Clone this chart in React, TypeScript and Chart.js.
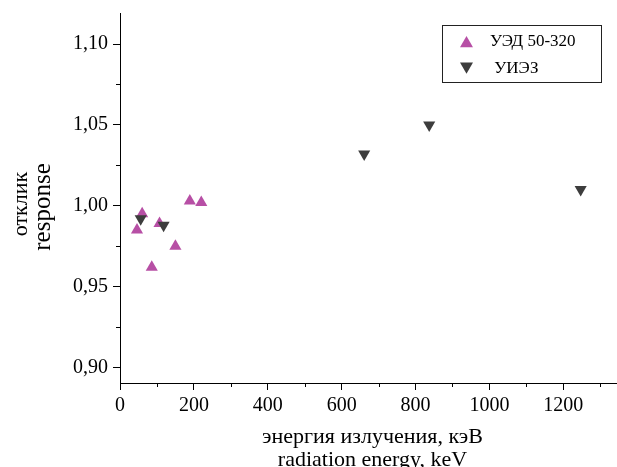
import { useEffect, useRef } from 'react';
import { Chart, registerables } from 'chart.js';

Chart.register(...registerables);

// ---- data ----
const energyUED = [46, 60, 86, 107, 150, 189, 220];
const responseUED = [0.985, 0.995, 0.962, 0.989, 0.975, 1.003, 1.002];
const energyUIEZ = [56, 118, 661, 837, 1247];
const responseUIEZ = [0.992, 0.988, 1.032, 1.05, 1.01];
const seriesLabels = ['УЭД 50-320', ' УИЭЗ'];
const xTitle = ['энергия излучения, кэВ', 'radiation energy, keV'];
const yTitle = ['отклик', 'response'];
const X_MIN = 0;
const X_MAX = 1367;
const X_STEP = 100;
const X_MAJOR = 200;
const Y_MIN = 0.8904;
const Y_MAX = 1.1192;
const Y_STEP = 0.025;
const Y_MAJOR = 0.05;

const FONT = "'Liberation Serif', 'Times New Roman', serif";
const PINK = '#B74FA5';
const DARK = '#3D3D3D';

const isMajor = (v: number, major: number) => {
  const k = v / major;
  return Math.abs(k - Math.round(k)) < 1e-6;
};

const minorTicks = {
  id: 'minorTicks',
  afterDraw(chart: any) {
    const { ctx, chartArea } = chart;
    ctx.save();
    ctx.strokeStyle = '#000';
    ctx.lineWidth = 1;
    const xs = chart.scales.x;
    xs.ticks.forEach((t: any) => {
      if (isMajor(t.value, X_MAJOR)) return;
      const px = Math.round(xs.getPixelForValue(t.value)) + 0.5;
      const y0 = Math.round(chartArea.bottom);
      ctx.beginPath();
      ctx.moveTo(px, y0);
      ctx.lineTo(px, y0 + 4);
      ctx.stroke();
    });
    const ys = chart.scales.y;
    ys.ticks.forEach((t: any) => {
      if (isMajor(t.value, Y_MAJOR)) return;
      const py = Math.round(ys.getPixelForValue(t.value)) + 0.5;
      const x0 = Math.round(chartArea.left);
      ctx.beginPath();
      ctx.moveTo(x0, py);
      ctx.lineTo(x0 - 4, py);
      ctx.stroke();
    });
    ctx.restore();
  },
};

// y-axis title: two rotated lines (second line set slightly larger, as in the reference)
const yTitlePlugin = {
  id: 'yTitlePlugin',
  afterDraw(chart: any) {
    const ctx = chart.ctx as CanvasRenderingContext2D;
    const { top, bottom } = chart.chartArea;
    const mid = (top + bottom) / 2;
    const specs = [
      { size: 22, baseX: 27, dy: 6 },
      { size: 25, baseX: 50, dy: 9 },
    ];
    ctx.save();
    ctx.fillStyle = '#000';
    ctx.textAlign = 'center';
    ctx.textBaseline = 'alphabetic';
    yTitle.forEach((t, i) => {
      const s = specs[i];
      ctx.save();
      ctx.font = `${s.size}px ${FONT}`;
      ctx.translate(s.baseX, mid + s.dy);
      ctx.rotate(-Math.PI / 2);
      ctx.fillText(t, 0, 0);
      ctx.restore();
    });
    ctx.restore();
  },
};

const drawTri = (ctx: CanvasRenderingContext2D, cx: number, cy: number, r: number, down: boolean) => {
  const w = r * Math.sqrt(3);
  const h = r * 1.5;
  ctx.beginPath();
  if (!down) {
    ctx.moveTo(cx, cy - h / 2);
    ctx.lineTo(cx + w / 2, cy + h / 2);
    ctx.lineTo(cx - w / 2, cy + h / 2);
  } else {
    ctx.moveTo(cx, cy + h / 2);
    ctx.lineTo(cx + w / 2, cy - h / 2);
    ctx.lineTo(cx - w / 2, cy - h / 2);
  }
  ctx.closePath();
  ctx.fill();
};

const legendBox = {
  id: 'legendBox',
  afterDraw(chart: any) {
    const ctx = chart.ctx as CanvasRenderingContext2D;
    const left = 442.5;
    const top = 25.5;
    const w = 159;
    const h = 57;
    ctx.save();
    ctx.strokeStyle = '#222';
    ctx.lineWidth = 1;
    ctx.strokeRect(left, top, w, h);
    ctx.font = `17px ${FONT}`;
    ctx.textBaseline = 'middle';
    ctx.textAlign = 'left';
    chart.data.datasets.forEach((ds: any, i: number) => {
      const cy = top + 16 + i * 26.5;
      ctx.fillStyle = ds.backgroundColor;
      drawTri(ctx, left + 24, cy, 7.5, (ds.pointRotation || 0) === 180);
      ctx.fillStyle = '#000';
      ctx.fillText(ds.label, left + 47.5, cy + 0.5);
    });
    ctx.restore();
  },
};

export default function App() {
  const ref = useRef<HTMLCanvasElement | null>(null);
  useEffect(() => {
    if (!ref.current) return;
    const chart = new Chart(ref.current, {
      type: 'scatter',
      data: {
        datasets: [
          {
            label: seriesLabels[0],
            data: energyUED.map((x, i) => ({ x, y: responseUED[i] })),
            backgroundColor: PINK,
            borderColor: PINK,
            borderWidth: 0,
            pointStyle: 'triangle',
            pointRadius: 7,
            pointRotation: 0,
            order: 2,
          },
          {
            label: seriesLabels[1],
            data: energyUIEZ.map((x, i) => ({ x, y: responseUIEZ[i] })),
            backgroundColor: DARK,
            borderColor: DARK,
            borderWidth: 0,
            pointStyle: 'triangle',
            pointRadius: 7,
            pointRotation: 180,
            order: 1,
          },
        ],
      },
      options: {
        animation: false,
        responsive: false,
        events: [],
        layout: { padding: { top: 13, left: 0, right: 0, bottom: 0 } },
        plugins: {
          legend: { display: false },
          tooltip: { enabled: false },
        },
        scales: {
          x: {
            type: 'linear',
            min: X_MIN,
            max: X_MAX,
            afterFit: (s: any) => {
              s.height = 84;
              s.paddingLeft = 0;
              s.paddingRight = 0;
            },
            border: { display: true, color: '#000', width: 1 },
            grid: {
              display: true,
              drawOnChartArea: false,
              drawTicks: true,
              tickLength: 7,
              tickColor: (c: any) => (c.tick && isMajor(c.tick.value, X_MAJOR) ? '#000' : 'rgba(0,0,0,0)'),
            },
            ticks: {
              stepSize: X_STEP,
              includeBounds: false,
              autoSkip: false,
              maxRotation: 0,
              padding: 4,
              color: '#000',
              font: { family: FONT, size: 20 },
              callback: (v: any) => (isMajor(Number(v), X_MAJOR) ? String(Math.round(Number(v))) : ''),
            },
            title: {
              display: true,
              text: xTitle,
              color: '#000',
              font: { family: FONT, size: 22, lineHeight: 1.05 },
              padding: { top: 0, bottom: -4.5 },
            },
          },
          y: {
            type: 'linear',
            min: Y_MIN,
            max: Y_MAX,
            afterFit: (s: any) => {
              s.width = 120;
              s.paddingTop = 0;
              s.paddingBottom = 0;
            },
            border: { display: true, color: '#000', width: 1 },
            grid: {
              display: true,
              drawOnChartArea: false,
              drawTicks: true,
              tickLength: 7,
              tickColor: (c: any) => (c.tick && isMajor(c.tick.value, Y_MAJOR) ? '#000' : 'rgba(0,0,0,0)'),
            },
            ticks: {
              stepSize: Y_STEP,
              includeBounds: false,
              autoSkip: false,
              padding: 5,
              color: '#000',
              font: { family: FONT, size: 20 },
              callback: (v: any) => (isMajor(Number(v), Y_MAJOR) ? Number(v).toFixed(2).replace('.', ',') : ''),
            },
            title: { display: false },
          },
        },
      },
      plugins: [minorTicks, yTitlePlugin, legendBox],
    } as any);
    return () => chart.destroy();
  }, []);

  return (
    <div style={{ position: 'fixed', left: 0, top: 0, width: 617, height: 467, overflow: 'hidden', background: '#fff' }}>
      <canvas ref={ref} width={632} height={467} style={{ width: 632, height: 467, display: 'block' }} />
    </div>
  );
}
